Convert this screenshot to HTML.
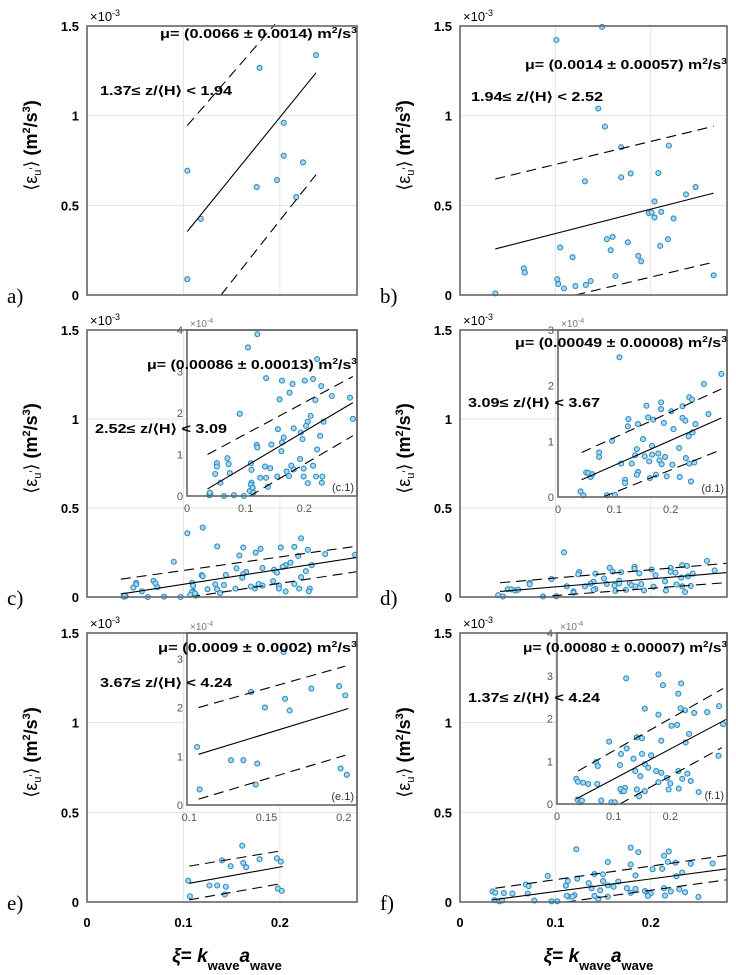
<!DOCTYPE html>
<html><head><meta charset="utf-8"><style>
html,body{margin:0;padding:0;background:#fff;}
svg{display:block;font-family:"Liberation Sans",sans-serif;}
</style></head><body>
<svg id="fig" width="736" height="975" viewBox="0 0 736 975"></svg>
<script>
// ---- Data (panel a, b: units 1e-3; panels c-f: units 1e-4) ----
const aX=[0.104,0.118,0.104,0.179,0.176,0.197,0.204,0.204,0.224,0.217,0.2375];
const aY=[0.693,0.425,0.088,1.267,0.602,0.641,0.960,0.777,0.740,0.546,1.338];
const aFitX=[0.104,0.2375], aFitY=[0.354,1.239];
const aUpX=[0.104,0.195], aUpY=[0.945,1.51];
const aLoX=[0.139,0.2375], aLoY=[0.0,0.671];

const bX=[0.037,0.067,0.068,0.101,0.102,0.103,0.109,0.105,0.118,0.121,0.131,0.132,0.137,0.145,0.149,0.152,0.154,0.158,0.160,0.163,0.169,0.169,0.176,0.179,0.187,0.190,0.198,0.201,0.204,0.204,0.208,0.210,0.211,0.218,0.219,0.224,0.237,0.247,0.266];
const bY=[0.009,0.149,0.125,1.422,0.088,0.061,0.037,0.265,0.211,0.050,0.634,0.056,0.078,1.040,1.495,0.939,0.311,0.250,0.324,0.106,0.824,0.656,0.294,0.678,0.218,0.188,0.457,0.460,0.522,0.432,0.680,0.274,0.464,0.311,0.833,0.427,0.561,0.602,0.110];
const bFitX=[0.037,0.266], bFitY=[0.257,0.568];
const bUpX=[0.037,0.266], bUpY=[0.647,0.941];
const bLoX=[0.121,0.266], bLoY=[0.0,0.183];

const cX=[0.12,0.104,0.222,0.135,0.162,0.18,0.201,0.215,0.229,0.175,0.158,0.219,0.247,0.278,0.09,0.206,0.211,0.203,0.233,0.283,0.155,0.165,0.182,0.194,0.197,0.227,0.119,0.12,0.144,0.162,0.161,0.222,0.069,0.071,0.051,0.051,0.048,0.057,0.073,0.109,0.110,0.133,0.142,0.135,0.138,0.125,0.11,0.109,0.154,0.170,0.178,0.182,0.174,0.193,0.199,0.199,0.206,0.215,0.22,0.231,0.230,0.038,0.040,0.063,0.08,0.097,0.107,0.113,0.039,0.112];
const cY=[3.90,3.58,3.30,2.84,2.78,2.70,2.78,2.82,2.65,2.49,2.33,2.31,2.41,2.37,1.98,1.79,1.93,1.69,1.79,1.86,1.61,1.41,1.63,1.53,1.37,1.45,1.23,1.17,1.24,1.29,1.08,1.12,0.91,0.77,0.79,0.71,0.53,0.32,0.55,0.79,0.63,0.71,0.67,0.44,0.22,0.44,0.32,0.27,0.47,0.59,0.73,0.64,0.48,0.89,0.66,0.47,0.31,0.73,0.47,0.47,0.32,0.02,0.04,0.0,0.02,0.0,0.12,0.08,0.08,0.2];
const cFitX=[0.035,0.283], cFitY=[0.17,2.25];
const cUpX=[0.035,0.283], cUpY=[1.0,2.88];
const cLoX=[0.107,0.283], cLoY=[0.0,1.45];

const dX=[0.109,0.29,0.259,0.233,0.238,0.267,0.183,0.183,0.157,0.201,0.221,0.125,0.124,0.142,0.16,0.169,0.188,0.221,0.226,0.244,0.205,0.232,0.239,0.096,0.151,0.167,0.14,0.215,0.073,0.073,0.137,0.167,0.178,0.19,0.154,0.162,0.18,0.184,0.203,0.131,0.112,0.142,0.140,0.119,0.119,0.163,0.174,0.193,0.216,0.227,0.233,0.242,0.236,0.05,0.054,0.058,0.061,0.04,0.045,0.087,0.101];
const dY=[2.51,2.21,2.03,1.79,1.75,1.49,1.70,1.58,1.64,1.54,1.63,1.40,1.27,1.31,1.43,1.39,1.33,1.42,1.37,1.31,1.22,1.09,1.16,1.01,1.04,0.92,0.86,0.88,0.80,0.72,0.75,0.76,0.78,0.72,0.73,0.64,0.66,0.59,0.58,0.60,0.60,0.45,0.40,0.31,0.25,0.34,0.40,0.37,0.36,0.70,0.60,0.62,0.28,0.44,0.43,0.36,0.41,0.10,0.03,0.03,0.04];
const dFitX=[0.042,0.29], dFitY=[0.31,1.42];
const dUpX=[0.042,0.29], dUpY=[0.80,1.94];
const dLoX=[0.08,0.29], dLoY=[0.0,0.85];

const eX=[0.1067,0.105,0.127,0.135,0.144,0.143,0.140,0.149,0.162,0.165,0.161,0.179,0.197,0.201,0.198,0.202];
const eY=[0.32,1.19,0.92,0.92,0.85,0.42,2.32,2.0,2.18,1.94,3.14,2.39,2.44,2.25,0.75,0.62];
const eFitX=[0.106,0.203], eFitY=[1.04,1.98];
const eUpX=[0.106,0.201], eUpY=[2.0,2.85];
const eLoX=[0.106,0.201], eLoY=[0.12,1.02];

const fX=[0.122,0.179,0.187,0.219,0.214,0.155,0.179,0.218,0.226,0.242,0.265,0.286,0.293,0.202,0.212,0.233,0.227,0.092,0.123,0.113,0.141,0.150,0.184,0.150,0.166,0.135,0.069,0.072,0.111,0.155,0.161,0.175,0.184,0.138,0.147,0.034,0.037,0.046,0.055,0.071,0.120,0.114,0.141,0.145,0.155,0.179,0.194,0.200,0.214,0.230,0.221,0.236,0.215,0.197,0.250,0.285,0.036,0.041,0.078,0.096,0.102,0.044,0.112,0.118];
const fY=[2.94,3.03,2.78,2.82,2.58,2.23,2.09,2.24,2.19,2.13,2.15,2.29,1.87,1.83,1.85,1.64,1.44,1.46,1.30,1.17,1.56,1.54,1.48,1.17,1.14,1.06,0.98,0.89,0.91,0.93,0.85,0.77,0.73,0.77,0.65,0.59,0.52,0.50,0.47,0.47,0.38,0.30,0.34,0.18,0.30,0.51,0.61,0.48,0.77,0.71,0.59,0.54,0.36,0.34,0.28,1.13,0.10,0.04,0.08,0.04,0.04,0.08,0.35,0.30];
const fFitX=[0.034,0.30], fFitY=[0.12,1.99];
const fUpX=[0.037,0.293], fUpY=[0.77,2.70];
const fLoX=[0.111,0.291], fLoY=[0.0,1.32];

const mainYTicks=[0,0.5,1,1.5];
const mainYTickLabels=["0","0.5","1","1.5"];
const mainXTicks=[0.1,0.2];
const bottomXTicks=[0,0.1,0.2];
const bottomXTickLabels=["0","0.1","0.2"];
const insetXTicksA=[0,0.1,0.2], insetXTickLabelsA=["0","0.1","0.2"];
const insetXTicksE=[0.1,0.15,0.2], insetXTickLabelsE=["0.1","0.15","0.2"];
const insetYTicks4=[0,1,2,3,4], insetYTicks3=[0,1,2,3];

// ---- helpers ----
const NS="http://www.w3.org/2000/svg";
const svg=document.getElementById('fig');
function mk(tag,attrs,parent){const e=document.createElementNS(NS,tag);for(const k in attrs)e.setAttribute(k,attrs[k]);(parent||svg).appendChild(e);return e;}
function scale(d0,d1,r0,r1){return v=>r0+(v-d0)/(d1-d0)*(r1-r0);}
const defs=mk('defs',{});
function clipRect(id,x,y,w,h){const cp=mk('clipPath',{id:id},defs);mk('rect',{x:x,y:y,width:w,height:h},cp);return 'url(#'+id+')';}

const MK_FILL="#a9d8ee", MK_STROKE="#2b8cc4";

function drawLines(g,sx,sy,fx,fy,ux,uy,lx,ly,div,name){
  const l1=mk('line',{x1:sx(fx[0]),y1:sy(fy[0]/div),x2:sx(fx[1]),y2:sy(fy[1]/div),stroke:'#000','stroke-width':1.1},g);
  
  
  const l2=mk('line',{x1:sx(ux[0]),y1:sy(uy[0]/div),x2:sx(ux[1]),y2:sy(uy[1]/div),stroke:'#000','stroke-width':1.1,'stroke-dasharray':'10,6'},g);
  
  
  const l3=mk('line',{x1:sx(lx[0]),y1:sy(ly[0]/div),x2:sx(lx[1]),y2:sy(ly[1]/div),stroke:'#000','stroke-width':1.1,'stroke-dasharray':'10,6'},g);
  
  
}
function drawPoints(g,sx,sy,xs,ys,div,name){
  for(let i=0;i<xs.length;i++){
    const c=mk('circle',{cx:sx(xs[i]),cy:sy(ys[i]/div),r:2.5,fill:MK_FILL,stroke:MK_STROKE,'stroke-width':1.1},g);
    
    
  }
}
function txt(s,x,y,attrs,name){const t=mk('text',Object.assign({x:x,y:y},attrs||{}));t.innerHTML=s;return t;}

// ---- panels ----
const panels=[
 {id:'a',L:87,R:357,T:26,B:295,X:aX,Y:aY,fx:aFitX,fy:aFitY,ux:aUpX,uy:aUpY,lx:aLoX,ly:aLoY,div:1,
  mu:'(0.0066 ± 0.0014)',muX:160,muY:38,muW:197,z:'1.37',z2:'1.94',zX:100,zY:95},
 {id:'b',L:460,R:727,T:26,B:295,X:bX,Y:bY,fx:bFitX,fy:bFitY,ux:bUpX,uy:bUpY,lx:bLoX,ly:bLoY,div:1,
  mu:'(0.0014 ± 0.00057)',muX:525,muY:69,muW:202,z:'1.94',z2:'2.52',zX:471,zY:101},
 {id:'c',L:87,R:357,T:330,B:597,X:cX,Y:cY,fx:cFitX,fy:cFitY,ux:cUpX,uy:cUpY,lx:cLoX,ly:cLoY,div:10,
  mu:'(0.00086 ± 0.00013)',muX:147,muY:369,muW:210,z:'2.52',z2:'3.09',zX:95,zY:433,
  inset:{L:187,R:357,T:330,B:496,x0:0,x1:0.29,y1:4,yt:insetYTicks4,xt:insetXTicksA,xl:insetXTickLabelsA,lab:'(c.1)'}},
 {id:'d',L:460,R:727,T:330,B:597,X:dX,Y:dY,fx:dFitX,fy:dFitY,ux:dUpX,uy:dUpY,lx:dLoX,ly:dLoY,div:10,
  mu:'(0.00049 ± 0.00008)',muX:515,muY:347,muW:212,z:'3.09',z2:'3.67',zX:468,zY:407,
  inset:{L:558,R:727,T:330,B:497,x0:0,x1:0.30,y1:3,yt:insetYTicks3,xt:insetXTicksA,xl:insetXTickLabelsA,lab:'(d.1)'}},
 {id:'e',L:87,R:357,T:633,B:902,X:eX,Y:eY,fx:eFitX,fy:eFitY,ux:eUpX,uy:eUpY,lx:eLoX,ly:eLoY,div:10,
  mu:'(0.0009 ± 0.0002)',muX:158,muY:652,muW:199,z:'3.67',z2:'4.24',zX:100,zY:687,
  inset:{L:187,R:357,T:633,B:805,x0:0.0985,x1:0.2086,y1:3.53,yt:insetYTicks3,xt:insetXTicksE,xl:insetXTickLabelsE,lab:'(e.1)'}},
 {id:'f',L:460,R:727,T:633,B:902,X:fX,Y:fY,fx:fFitX,fy:fFitY,ux:fUpX,uy:fUpY,lx:fLoX,ly:fLoY,div:10,
  mu:'(0.00080 ± 0.00007)',muX:523,muY:652,muW:204,z:'1.37',z2:'4.24',zX:468,zY:702,
  inset:{L:557,R:727,T:633,B:804,x0:0,x1:0.30,y1:4,yt:insetYTicks4,xt:insetXTicksA,xl:insetXTickLabelsA,lab:'(f.1)'}}
];

panels.forEach((p,pi)=>{
  const g=mk('g',{});
  
  
  const sx=scale(0,0.28,p.L,p.R), sy=scale(0,1.5,p.B,p.T);
  // grid
  mainYTicks.forEach(v=>{if(v>0&&v<1.5){const l=mk('line',{x1:p.L,x2:p.R,y1:sy(v),y2:sy(v),stroke:'#e4e4e4','stroke-width':1},g);}});
  mainXTicks.forEach(v=>{const l=mk('line',{x1:sx(v),x2:sx(v),y1:p.T,y2:p.B,stroke:'#e4e4e4','stroke-width':1},g);});
  const mg=mk('g',{'clip-path':clipRect('mclip'+p.id,p.L-3,p.T-3,p.R-p.L+3,p.B-p.T+6)},g);
  
  
  drawPoints(mg,sx,sy,p.X,p.Y,p.div,'panel-'+p.id);
  drawLines(mg,sx,sy,p.fx,p.fy,p.ux,p.uy,p.lx,p.ly,p.div,'panel-'+p.id);
  // inset
  if(p.inset){
    const q=p.inset;
    const ig=mk('g',{},g);
    
    
    mk('rect',{x:q.L,y:q.T,width:q.R-q.L,height:q.B-q.T,fill:'#fff'},ig);
    const isx=scale(q.x0,q.x1,q.L,q.R), isy=scale(0,q.y1,q.B,q.T);
    const cg=mk('g',{'clip-path':clipRect('iclip'+p.id,q.L,q.T-3,q.R-q.L+3,q.B-q.T+6)},ig);
    drawPoints(cg,isx,isy,p.X,p.Y,1,'inset-'+p.id);
    drawLines(cg,isx,isy,p.fx,p.fy,p.ux,p.uy,p.lx,p.ly,1,'inset-'+p.id);
    const r=mk('rect',{x:q.L,y:q.T,width:q.R-q.L,height:q.B-q.T,fill:'none',stroke:'#666','stroke-width':1.6},ig);
    
    q.yt.forEach(v=>{txt(String(v),q.L-4,isy(v)+4,{'font-size':11,fill:'#555','text-anchor':'end'},'inset-y-tick-label');});
    q.xt.forEach((v,i)=>{txt(q.xl[i],isx(v),q.B+16,{'font-size':11,fill:'#555','text-anchor':'middle'},'inset-x-tick-label');});
    txt('×10<tspan font-size="7" dy="-4">-4</tspan>',q.L+3,q.T-3,{'font-size':10,fill:'#777'},'inset-exponent');
    txt(q.lab,q.R-3,q.B-5,{'font-size':11,fill:'#333','text-anchor':'end'},'inset-label');
  }
  // frame
  const fr=mk('rect',{x:p.L,y:p.T,width:p.R-p.L,height:p.B-p.T,fill:'none',stroke:'#666','stroke-width':1.6},g);
  
  // y tick labels
  mainYTicks.forEach((v,i)=>{txt(mainYTickLabels[i],p.L-8,sy(v)+5,{'font-size':13,'font-weight':'bold','text-anchor':'end'},'y-tick-label');});
  txt('×10<tspan font-size="9" dy="-5">-3</tspan>',p.L+3,p.T-5,{'font-size':13},'y-exponent');
  // annotations
  txt('μ= '+p.mu+' m<tspan font-size="8" dy="-5">2</tspan><tspan dy="5">/s</tspan><tspan font-size="8" dy="-5">3</tspan>',p.muX,p.muY,{'font-size':12.5,'font-weight':'bold',textLength:p.muW,lengthAdjust:'spacingAndGlyphs'},'mu-annotation');
  txt(p.z+'≤ z/⟨H⟩ &lt; '+p.z2,p.zX,p.zY,{'font-size':12.5,'font-weight':'bold',textLength:132,lengthAdjust:'spacingAndGlyphs'},'height-range-annotation');
  // y label
  const cx=p.L-50, cy=(p.T+p.B)/2-15;
  txt('⟨ε<tspan font-size="11" dy="4">u</tspan><tspan font-size="11" dy="-4">′</tspan>⟩  <tspan font-weight="bold">(m<tspan font-size="11" dy="-7">2</tspan><tspan dy="7">/s</tspan><tspan font-size="11" dy="-7">3</tspan><tspan dy="7">)</tspan></tspan>',cx,cy,{'font-size':18,'text-anchor':'middle',transform:'rotate(-90 '+cx+' '+cy+')'},'y-axis-title');
  // panel letter
  txt(p.id+')',p.L-80,p.B+8,{'font-size':21,'font-family':'"Liberation Serif",serif'},'panel-letter');
  // bottom row x labels
  if(p.id==='e'||p.id==='f'){
    bottomXTicks.forEach((v,i)=>{txt(bottomXTickLabels[i],sx(v),927,{'font-size':13,'font-weight':'bold','text-anchor':'middle'},'x-tick-label');});
    const mx=(p.L+p.R)/2+5;
    txt('<tspan font-style="italic">ξ</tspan>= <tspan font-style="italic">k</tspan><tspan font-size="13" dy="8">wave</tspan><tspan font-style="italic" dy="-8">a</tspan><tspan font-size="13" dy="8">wave</tspan>',mx,962,{'font-size':19,'font-weight':'bold','text-anchor':'middle'},'x-axis-title');
  }
});
</script>
</body></html>
